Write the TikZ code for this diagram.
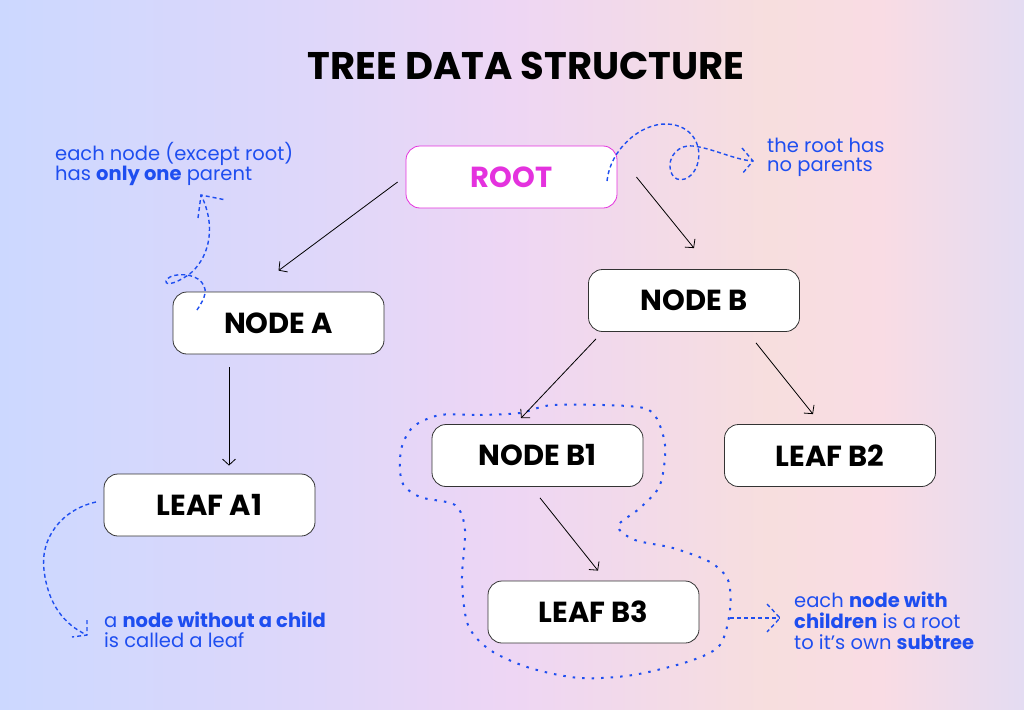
\documentclass[tikz,border=0pt]{standalone}
\usepackage{fontspec}
\setmainfont{Poppins}
\usetikzlibrary{arrows.meta}
\definecolor{annblue}{RGB}{30,78,240}
\definecolor{rootmag}{RGB}{228,50,222}
\definecolor{bgA}{RGB}{204,216,255}
\definecolor{bgB}{RGB}{222,215,250}
\definecolor{bgC}{RGB}{238,214,244}
\definecolor{bgD}{RGB}{247,222,222}
\definecolor{bgE}{RGB}{249,220,228}
\definecolor{bgF}{RGB}{228,220,242}
\pgfdeclarehorizontalshading{bgshade}{100bp}{color(0bp)=(bgA); color(25bp)=(bgA); color(40bp)=(bgB); color(50bp)=(bgC); color(62.5bp)=(bgD); color(68bp)=(bgE); color(75bp)=(bgF); color(100bp)=(bgF)}
\newcommand{\notetext}[1]{\begin{tabular}[t]{@{}l@{}}#1\end{tabular}}
\tikzset{
  box/.style={draw=black!80, fill=white, rounded corners=14pt, minimum width=211pt, minimum height=62pt, font=\fontsize{29}{33}\selectfont\bfseries, line width=0.8pt, inner sep=0pt},
  arr/.style={-{Straight Barb[length=6pt,width=13pt]}, line width=0.8pt},
  ann/.style={draw=annblue, dash pattern=on 4pt off 3pt, line width=1.4pt},
  dots/.style={draw=annblue, dash pattern=on 2.5pt off 7pt, line width=2pt},
  note/.style={text=annblue, font=\fontsize{19.5}{19.5}\selectfont, inner sep=0pt, anchor=base west},
}
\begin{document}
\begin{tikzpicture}[x=1pt,y=-1pt]
\useasboundingbox (0,0) rectangle (1024,709);
\shade[shading=bgshade] (0,0) rectangle (1024,709);

\node[font=\fontsize{38.5}{42}\selectfont\bfseries] (title) at (526,66) {TREE DATA STRUCTURE};

% subtree outline
\draw[dots] plot[smooth cycle] coordinates {(440,415) (480,415) (520,413) (553,405) (627,406) (653,413) (665,445) (660,485) (640,508) (618,526) (635,540) (673,548) (710,562) (728,580) (730,610) (720,645) (690,661) (633,675) (580,678) (530,668) (490,650) (468,625) (462,580) (465,530) (455,505) (420,497) (402,482) (401,450) (413,427)};

% nodes
\node[box, draw=rootmag, text=rootmag] (root) at (511.5,177) {ROOT};
\node[box] (nodeA) at (278.5,323) {NODE A};
\node[box] (nodeB) at (694,300.5) {NODE B};
\node[box] (leafA1) at (209.5,505) {LEAF A1};
\node[box] (nodeB1) at (537.5,455.5) {NODE B1};
\node[box] (leafB2) at (830,455.5) {LEAF B2};
\node[box] (leafB3) at (593.5,612) {LEAF B3};

% tree edges
\draw[arr] ([xshift=-8pt,yshift=-5pt]root.west) -- ([yshift=21pt]nodeA.north);
\draw[arr] ([xshift=19pt]root.east) -- ([yshift=21pt]nodeB.north);
\draw[arr] ([xshift=-49.5pt,yshift=-13pt]nodeA.south) -- ([xshift=19.5pt,yshift=8pt]leafA1.north);
\draw[arr] ([xshift=-98pt,yshift=-7pt]nodeB.south) -- ([xshift=-16.5pt,yshift=6pt]nodeB1.north);
\draw[arr] ([xshift=62pt,yshift=-11pt]nodeB.south) -- ([xshift=-17pt,yshift=10pt]leafB2.north);
\draw[arr] ([xshift=2.5pt,yshift=-11pt]nodeB1.south) -- ([xshift=4.5pt,yshift=10pt]leafB3.north);

% annotation texts
\node[note] (n1) at (55,160) {\notetext{each node (except root)\\has \textbf{only one} parent}};
\node[note] (n2) at (767,152) {\notetext{the root has\\no parents}};
\node[note] (n3) at (104,627) {\notetext{a \textbf{node without a child}\\is called a leaf}};
\node[note] (n4) at (794,607) {\notetext{each \textbf{node with}\\\textbf{children} is a root\\to it’s own \textbf{subtree}}};

% annotation arrows
\coordinate (t1) at (753,161);
\draw[ann] (607,181) .. controls (610,150) and (640,123) .. (667,124) .. controls (692,125) and (702,145) .. (698,162) .. controls (694,180) and (676,186) .. (671,172) .. controls (666,156) and (680,144) .. (693,146) .. controls (712,148) and (735,160) .. (t1);
\draw[ann] (742,148) -- (t1) -- (742,174);

\coordinate (t2) at (201,195);
\draw[ann] (197,310) .. controls (205,298) and (210,288) .. (198,279) .. controls (188,272) and (168,274) .. (166,281) .. controls (165,287) and (180,282) .. (192,272) .. controls (210,255) and (216,225) .. (t2);
\draw[ann] (198,218) -- (t2) -- (226,200);

\coordinate (t3) at (87,635);
\draw[ann] (96,502) .. controls (60,510) and (40,540) .. (44,570) .. controls (48,605) and (65,625) .. (t3);
\draw[ann] (87,620) -- (t3) -- (72,637);

\coordinate (t4) at (780,618);
\draw[ann] (730,618) -- (t4);
\draw[ann] (767,604) -- (t4) -- (767,632);
\end{tikzpicture}
\end{document}
